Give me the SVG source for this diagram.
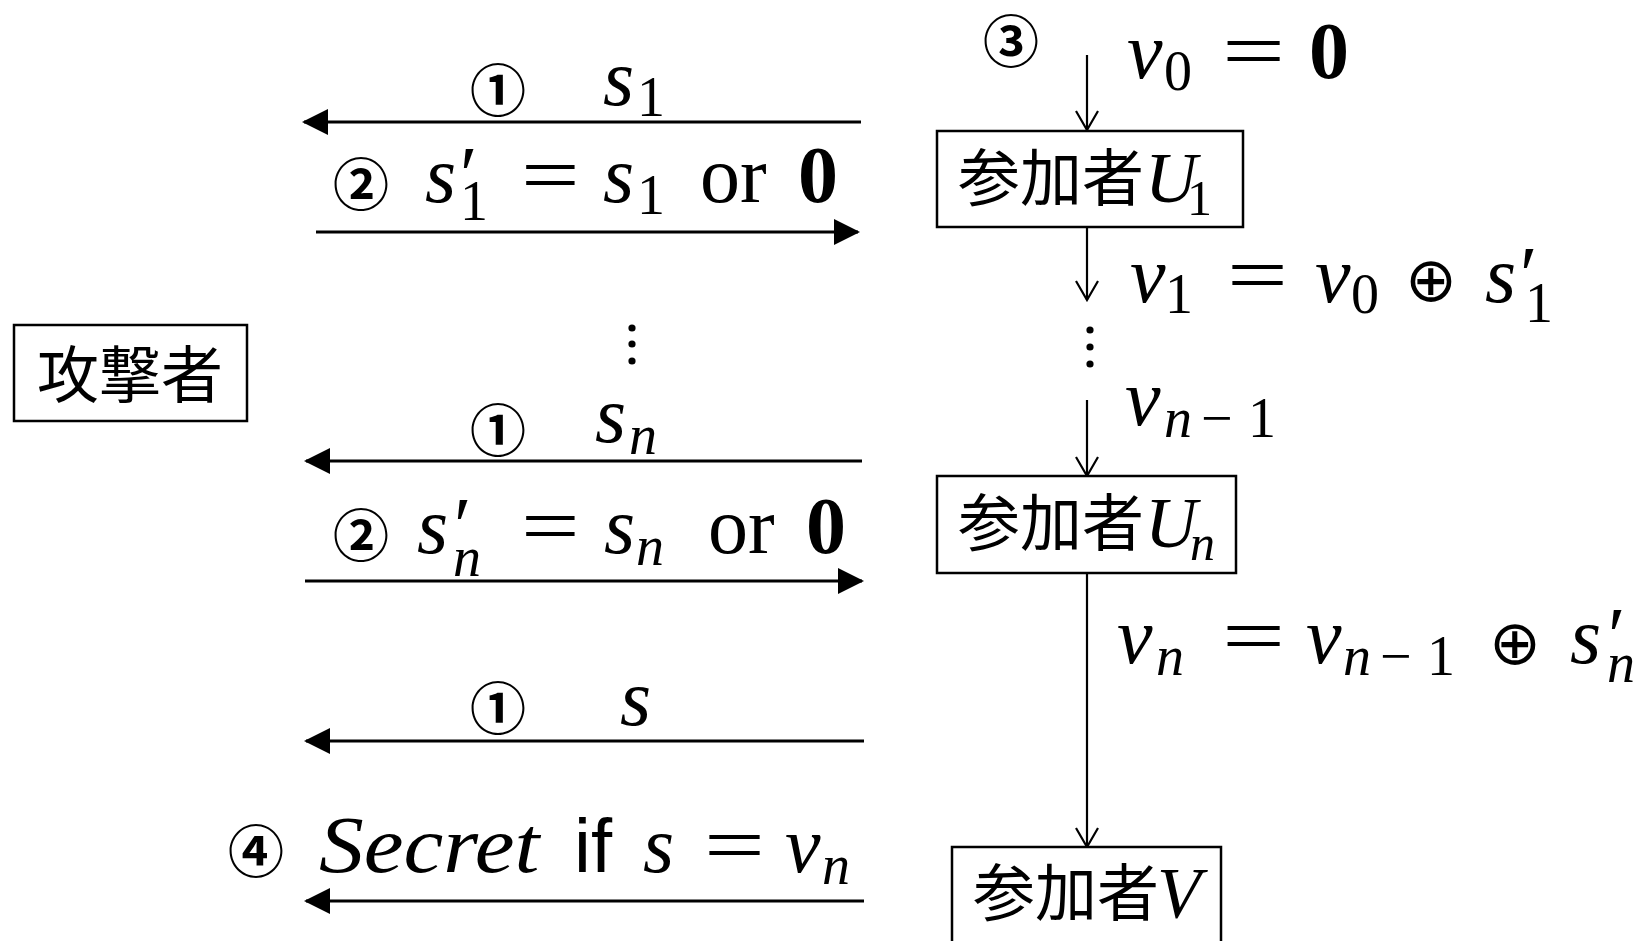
<svg xmlns="http://www.w3.org/2000/svg" width="1652" height="941" viewBox="0 0 1652 941">
<rect width="1652" height="941" fill="#fff"/>
<defs>
<marker id="fa" markerUnits="userSpaceOnUse" viewBox="0 0 26 26" refX="24" refY="13" markerWidth="26" markerHeight="26" orient="auto">
<path d="M0,0 L26,13 L0,26 z" fill="#000"/>
</marker>
<marker id="oa" markerUnits="userSpaceOnUse" viewBox="0 0 22 24" refX="20" refY="12" markerWidth="22" markerHeight="24" orient="auto">
<path d="M1,1 L20,12 L1,23" fill="none" stroke="#000" stroke-width="2.2"/>
</marker>
</defs>

<g id="connectors" stroke="#000" fill="none">
<line x1="861" y1="122" x2="304" y2="122" stroke-width="3" marker-end="url(#fa)"/>
<line x1="316" y1="232" x2="858" y2="232" stroke-width="3" marker-end="url(#fa)"/>
<line x1="862" y1="461" x2="306" y2="461" stroke-width="3" marker-end="url(#fa)"/>
<line x1="305" y1="581" x2="862" y2="581" stroke-width="3" marker-end="url(#fa)"/>
<line x1="864" y1="741" x2="306" y2="741" stroke-width="3" marker-end="url(#fa)"/>
<line x1="864" y1="901" x2="306" y2="901" stroke-width="3" marker-end="url(#fa)"/>
<line x1="1087" y1="55" x2="1087" y2="130" stroke-width="2.2" marker-end="url(#oa)"/>
<line x1="1087" y1="227" x2="1087" y2="300" stroke-width="2.2" marker-end="url(#oa)"/>
<line x1="1087" y1="400" x2="1087" y2="476" stroke-width="2.2" marker-end="url(#oa)"/>
<line x1="1087" y1="573" x2="1087" y2="847" stroke-width="2.2" marker-end="url(#oa)"/>
</g>

<g id="attacker">
<rect x="14" y="325" width="233" height="96" fill="#fff" stroke="#000" stroke-width="2.5"/>
<text x="37" y="398" font-family="Noto Sans CJK JP" font-size="62">攻撃者</text>
</g>

<g id="U1">
<rect x="937" y="131" width="306" height="96" fill="#fff" stroke="#000" stroke-width="2.5"/>
<text x="958" y="201" font-family="Noto Sans CJK JP" font-size="62">参加者</text>
<text x="1145" y="202" font-family="Liberation Serif" font-size="72" font-style="italic">U</text>
<text x="1187" y="215" font-family="Liberation Serif" font-size="50">1</text>
</g>

<g id="Un">
<rect x="937" y="476" width="299" height="97" fill="#fff" stroke="#000" stroke-width="2.5"/>
<text x="958" y="546" font-family="Noto Sans CJK JP" font-size="62">参加者</text>
<text x="1145" y="547" font-family="Liberation Serif" font-size="72" font-style="italic">U</text>
<text x="1190" y="560" font-family="Liberation Serif" font-size="50" font-style="italic">n</text>
</g>

<g id="V">
<rect x="952" y="847" width="269" height="110" fill="#fff" stroke="#000" stroke-width="2.5"/>
<text x="973" y="916" font-family="Noto Sans CJK JP" font-size="62">参加者</text>
<text x="1157" y="917" font-family="Liberation Serif" font-size="72" font-style="italic">V</text>
</g>

<g id="label-s1">
<text x="498" y="111" font-family="Noto Sans CJK JP" font-size="56" font-weight="bold" text-anchor="middle">①</text>
<text x="603" y="105" font-family="Liberation Serif" font-size="80" font-style="italic">s</text>
<text x="637" y="116" font-family="Liberation Serif" font-size="56">1</text>
</g>

<g id="label-s1prime">
<text x="361" y="205" font-family="Noto Sans CJK JP" font-size="56" font-weight="bold" text-anchor="middle">②</text>
<text x="425" y="202" font-family="Liberation Serif" font-size="80" font-style="italic">s</text>
<text x="455" y="202" font-family="Liberation Serif" font-size="80" font-style="italic">′</text>
<text x="460" y="220" font-family="Liberation Serif" font-size="56">1</text>
<text transform="translate(521,202) scale(1.3,1)" font-family="Liberation Serif" font-size="80">=</text>
<text x="603" y="202" font-family="Liberation Serif" font-size="80" font-style="italic">s</text>
<text x="637" y="214" font-family="Liberation Serif" font-size="56">1</text>
<text x="700" y="202" font-family="Liberation Serif" font-size="80">or</text>
<text x="798" y="202" font-family="Liberation Serif" font-size="80" font-weight="bold">0</text>
</g>

<g id="dots-left" fill="#000">
<circle cx="632" cy="328" r="3.6"/><circle cx="632" cy="344" r="3.6"/><circle cx="632" cy="361" r="3.6"/>
</g>

<g id="label-sn">
<text x="498" y="451" font-family="Noto Sans CJK JP" font-size="56" font-weight="bold" text-anchor="middle">①</text>
<text x="595" y="442" font-family="Liberation Serif" font-size="80" font-style="italic">s</text>
<text x="629" y="454" font-family="Liberation Serif" font-size="56" font-style="italic">n</text>
</g>

<g id="label-snprime">
<text x="361" y="556" font-family="Noto Sans CJK JP" font-size="56" font-weight="bold" text-anchor="middle">②</text>
<text x="417" y="553" font-family="Liberation Serif" font-size="80" font-style="italic">s</text>
<text x="449" y="553" font-family="Liberation Serif" font-size="80" font-style="italic">′</text>
<text x="453" y="576" font-family="Liberation Serif" font-size="56" font-style="italic">n</text>
<text transform="translate(521,553) scale(1.3,1)" font-family="Liberation Serif" font-size="80">=</text>
<text x="604" y="553" font-family="Liberation Serif" font-size="80" font-style="italic">s</text>
<text x="636" y="565" font-family="Liberation Serif" font-size="56" font-style="italic">n</text>
<text x="708" y="553" font-family="Liberation Serif" font-size="80">or</text>
<text x="806" y="553" font-family="Liberation Serif" font-size="80" font-weight="bold">0</text>
</g>

<g id="label-s">
<text x="498" y="729" font-family="Noto Sans CJK JP" font-size="56" font-weight="bold" text-anchor="middle">①</text>
<text x="620" y="725" font-family="Liberation Serif" font-size="80" font-style="italic">s</text>
</g>

<g id="label-secret">
<text x="256" y="872" font-family="Noto Sans CJK JP" font-size="56" font-weight="bold" text-anchor="middle">④</text>
<text transform="translate(319,872) scale(1.12,1)" font-family="Liberation Serif" font-size="80" font-style="italic">Secret</text>
<text x="574" y="872" font-family="Liberation Sans" font-size="76">if</text>
<text x="643" y="872" font-family="Liberation Serif" font-size="80" font-style="italic">s</text>
<text transform="translate(704,872) scale(1.35,1)" font-family="Liberation Serif" font-size="80">=</text>
<text x="785" y="872" font-family="Liberation Serif" font-size="80" font-style="italic">v</text>
<text x="822" y="884" font-family="Liberation Serif" font-size="56" font-style="italic">n</text>
</g>

<g id="label-v0">
<text x="1011" y="62" font-family="Noto Sans CJK JP" font-size="56" font-weight="bold" text-anchor="middle">③</text>
<text x="1127" y="78" font-family="Liberation Serif" font-size="80" font-style="italic">v</text>
<text x="1164" y="90" font-family="Liberation Serif" font-size="56">0</text>
<text transform="translate(1222,78) scale(1.4,1)" font-family="Liberation Serif" font-size="80">=</text>
<text x="1309" y="78" font-family="Liberation Serif" font-size="80" font-weight="bold">0</text>
</g>

<g id="label-v1">
<text x="1130" y="302" font-family="Liberation Serif" font-size="80" font-style="italic">v</text>
<text x="1165" y="313" font-family="Liberation Serif" font-size="56">1</text>
<text transform="translate(1227,302) scale(1.35,1)" font-family="Liberation Serif" font-size="80">=</text>
<text x="1315" y="302" font-family="Liberation Serif" font-size="80" font-style="italic">v</text>
<text x="1351" y="313" font-family="Liberation Serif" font-size="56">0</text>
<text x="1431" y="301" font-family="DejaVu Sans" font-size="62" text-anchor="middle">⊕</text>
<text x="1485" y="302" font-family="Liberation Serif" font-size="80" font-style="italic">s</text>
<text x="1515" y="302" font-family="Liberation Serif" font-size="80" font-style="italic">′</text>
<text x="1525" y="322" font-family="Liberation Serif" font-size="56">1</text>
</g>

<g id="dots-right" fill="#000">
<circle cx="1090" cy="330" r="3.6"/><circle cx="1090" cy="347" r="3.6"/><circle cx="1090" cy="364" r="3.6"/>
</g>

<g id="label-vn1">
<text x="1125" y="425" font-family="Liberation Serif" font-size="80" font-style="italic">v</text>
<text x="1164" y="437" font-family="Liberation Serif" font-size="56" font-style="italic">n</text>
<text x="1201" y="437" font-family="Liberation Serif" font-size="56">−</text>
<text x="1248" y="437" font-family="Liberation Serif" font-size="56">1</text>
</g>

<g id="label-vn">
<text x="1117" y="663" font-family="Liberation Serif" font-size="80" font-style="italic">v</text>
<text x="1156" y="675" font-family="Liberation Serif" font-size="56" font-style="italic">n</text>
<text transform="translate(1222,663) scale(1.4,1)" font-family="Liberation Serif" font-size="80">=</text>
<text x="1306" y="663" font-family="Liberation Serif" font-size="80" font-style="italic">v</text>
<text x="1343" y="675" font-family="Liberation Serif" font-size="56" font-style="italic">n</text>
<text x="1380" y="675" font-family="Liberation Serif" font-size="56">−</text>
<text x="1427" y="675" font-family="Liberation Serif" font-size="56">1</text>
<text x="1515" y="664" font-family="DejaVu Sans" font-size="62" text-anchor="middle">⊕</text>
<text x="1570" y="663" font-family="Liberation Serif" font-size="80" font-style="italic">s</text>
<text x="1603" y="663" font-family="Liberation Serif" font-size="80" font-style="italic">′</text>
<text x="1607" y="682" font-family="Liberation Serif" font-size="56" font-style="italic">n</text>
</g>
</svg>
